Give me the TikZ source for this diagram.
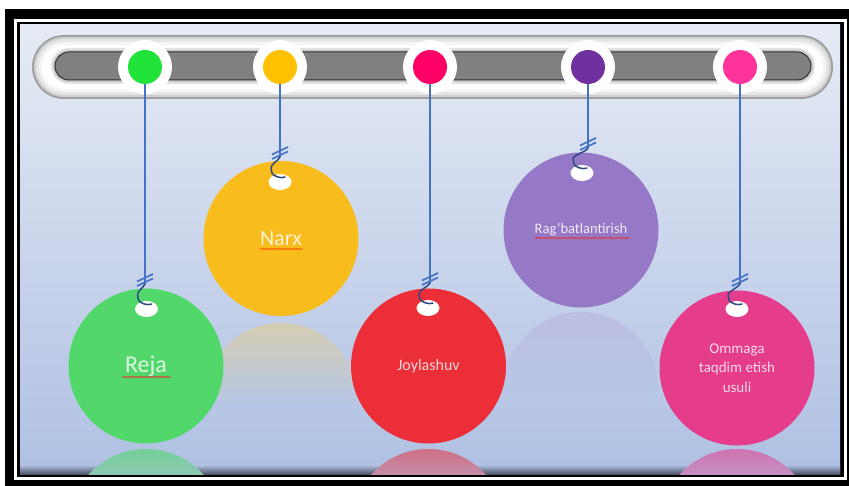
\documentclass[tikz,border=0pt]{standalone}
\usepackage{fontspec}
\setmainfont{Carlito}
\usetikzlibrary{calc,shapes.geometric,decorations.pathmorphing}
\definecolor{bgtop}{HTML}{E6EBF5}
\definecolor{bgbot}{HTML}{AFC0E3}
\definecolor{strblue}{HTML}{4472C4}
\definecolor{hookblue}{HTML}{2E4A86}
\definecolor{spellred}{HTML}{E03A3A}
\definecolor{barrim}{HTML}{A0A0A0}
\definecolor{innerbar}{HTML}{808080}
\definecolor{gk}{HTML}{22E33A}
\definecolor{yk}{HTML}{FFC000}
\definecolor{rk}{HTML}{FF0066}
\definecolor{pk}{HTML}{7030A0}
\definecolor{mk}{HTML}{FF3399}
\definecolor{gball}{HTML}{52D86A}
\definecolor{yball}{HTML}{F8BC1C}
\definecolor{rball}{HTML}{EB2E38}
\definecolor{pball}{HTML}{9679C6}
\definecolor{mball}{HTML}{E53D8B}
\tikzset{
  ring/.style={circle, fill=white, minimum size=54pt, inner sep=0pt},
  dot/.style={circle, minimum size=34pt, inner sep=0pt},
  ball/.style={circle, minimum size=155pt, inner sep=0pt, align=center},
  hole/.style={ellipse, fill=white, minimum width=23pt, minimum height=16pt, inner sep=0pt},
  string/.style={draw=strblue, line width=1.7pt},
  slash/.style={draw=strblue, line width=1.7pt},
  hookline/.style={draw=hookblue, line width=1.5pt, line cap=round, line join=round},
  squiggle/.style={draw=spellred, line width=0.8pt, decorate, decoration={snake, amplitude=0.6pt, segment length=3pt}},
}
\begin{document}
\begin{tikzpicture}[x=1pt,y=-1pt]
\useasboundingbox (0,0) rectangle (849,486);
\fill[white] (0,0) rectangle (849,486);
% frame
\fill[black] (5,9) rectangle (855,492);
\fill[white] (14,19) rectangle (847,480);
\fill[black] (17,22) rectangle (844,477);
\shade[top color=bgtop, bottom color=bgbot] (20,25) rectangle (840,474);
\shade[top color=bgbot, bottom color=bgbot!45!black] (20,465) rectangle (840,474);

% bar
\fill[barrim, rounded corners=32pt] (32,35) rectangle (833,99);
\fill[gray!38, rounded corners=30pt] (34,37) rectangle (831,97);
\fill[gray!20, rounded corners=28pt] (36,39) rectangle (829,95);
\fill[gray!8, rounded corners=25pt] (39,42) rectangle (826,92);
\fill[white, rounded corners=22pt] (42,45) rectangle (823,89);
\fill[gray!22, rounded corners=18pt] (51,48) rectangle (815,84);
\fill[gray!45, rounded corners=16pt] (53,50) rectangle (813,82);
\fill[innerbar, draw=gray!40!black, line width=1pt, rounded corners=14pt] (55,52) rectangle (811,80);

% knobs
\node[ring] (k1) at (145,67) {};
\node[ring] (k2) at (280,67) {};
\node[ring] (k3) at (430,67) {};
\node[ring] (k4) at (588,67) {};
\node[ring] (k5) at (740,67) {};
\node[dot, fill=gk] (d1) at (k1) {};
\node[dot, fill=yk] (d2) at (k2) {};
\node[dot, fill=rk] (d3) at (k3) {};
\node[dot, fill=pk] (d4) at (k4) {};
\node[dot, fill=mk] (d5) at (k5) {};

% reflections
\begin{scope}
  \clip (281,400) circle[radius=77];
  \shade[top color=yball!42!bgbot!66!bgtop, bottom color=bgbot!86!bgtop] (200,322) rectangle (360,405);
\end{scope}
\begin{scope}
  \clip (581,389) circle[radius=77];
  \shade[top color=pball!40!bgbot!64!bgtop, bottom color=bgbot!84!bgtop] (500,312) rectangle (660,395);
\end{scope}
\begin{scope}
  \clip (146,526) circle[radius=77];
  \shade[top color=gball!62!bgbot, bottom color=gball!40!bgbot] (60,449) rectangle (230,474);
\end{scope}
\begin{scope}
  \clip (428.5,526) circle[radius=77];
  \shade[top color=rball!55!bgbot, bottom color=rball!35!bgbot] (340,449) rectangle (520,474);
\end{scope}
\begin{scope}
  \clip (737,526) circle[radius=77];
  \shade[top color=mball!58!bgbot, bottom color=mball!38!bgbot] (650,449) rectangle (820,474);
\end{scope}

% balls
\node[ball, fill=gball, font=\fontsize{24}{28}\selectfont, text=white!80!gball] (b1) at (146,366) {Reja};
\node[ball, fill=yball, font=\fontsize{22}{26}\selectfont, text=white!80!yball] (b2) at (281,238.5) {Narx};
\node[ball, fill=rball, font=\fontsize{16}{19}\selectfont, text=white!80!rball] (b3) at (428.5,366) {Joylashuv};
\node[ball, fill=pball, font=\fontsize{14.5}{18}\selectfont, text=white!85!pball] (b4) at (581,230) {Rag’batlantirish};
\node[ball, fill=mball, font=\fontsize{15}{19.5}\selectfont, text=white!80!mball] (b5) at (737,368) {Ommaga\\taqdim etish\\usuli};

% spell-check underlines
\draw[squiggle] (122,377) -- (171,377);
\draw[squiggle, draw=orange!70!red] (260,249) -- (303,249);
\draw[squiggle] (535,238) -- (630,238);

% holes
\node[hole] (h1) at (146.5,309) {};
\node[hole] (h2) at (280,182) {};
\node[hole] (h3) at (428,308) {};
\node[hole] (h4) at (582,173) {};
\node[hole] (h5) at (737,309) {};

% string ends
\coordinate (t1) at (145,284);
\coordinate (t2) at (280,157);
\coordinate (t3) at (430,283);
\coordinate (t4) at (588,148);
\coordinate (t5) at (740,284);

\foreach \i in {1,...,5}{
  \draw[string] (d\i.south) -- (t\i);
  \draw[slash] ($(t\i)+(-8,-2.5)$) -- ($(t\i)+(8,-10)$);
  \draw[slash] ($(t\i)+(-8,2)$) -- ($(t\i)+(8,-5.5)$);
  \draw[hookline] (t\i) .. controls +(-2,4) and +(0,-4) .. ($(h\i)+(-9,-14)$)
     -- ($(h\i)+(-8,-9)$) .. controls +(1,3) and +(-4,2) .. ($(h\i)+(5,-5)$);
}
\end{tikzpicture}
\end{document}
